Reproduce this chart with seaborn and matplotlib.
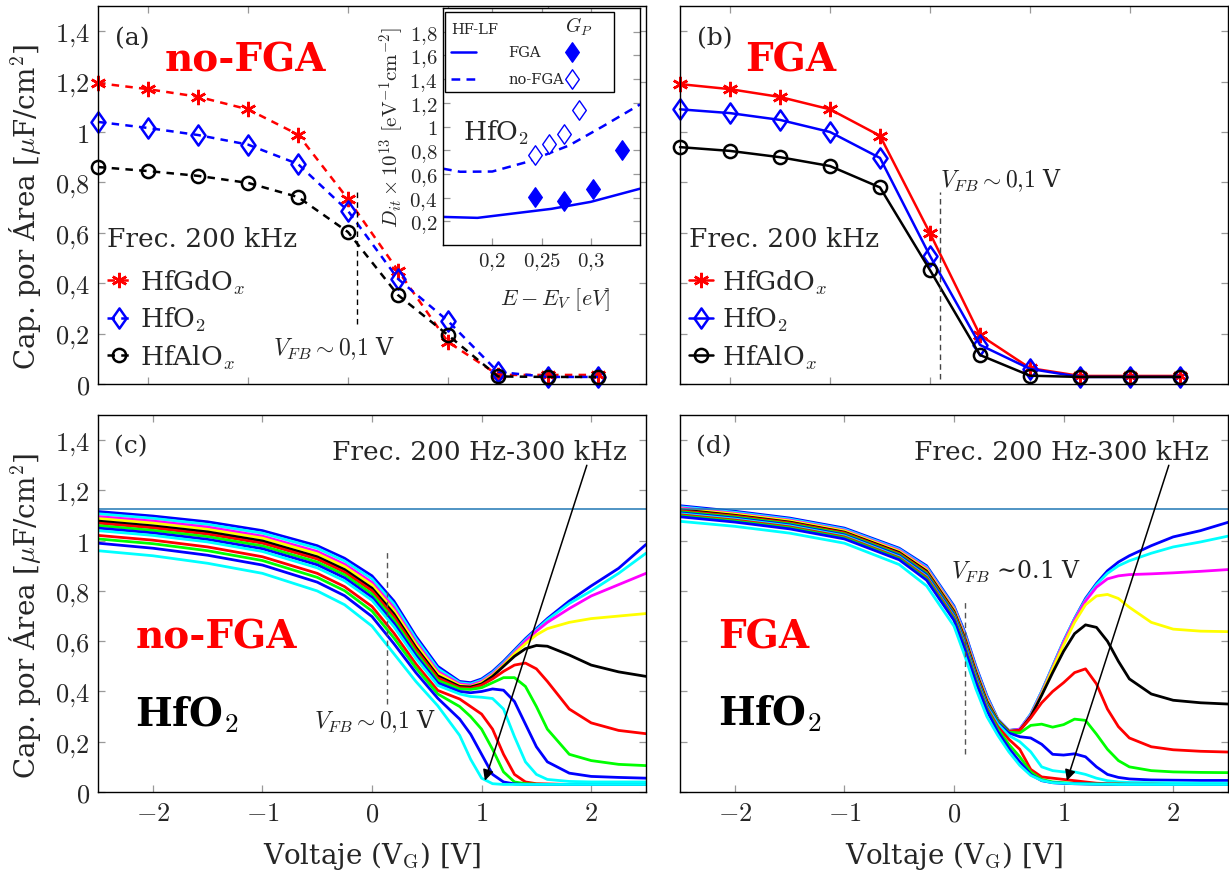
import numpy as np
import pandas as pd
import matplotlib
matplotlib.use("Agg")
import matplotlib.pyplot as plt
import seaborn as sns
from matplotlib.patches import Rectangle
from matplotlib.path import Path

# ---------------- data ----------------
# panels (a) and (b): 200 kHz C-V, three dielectrics
VG_AB = [-2.5, -2.0, -1.5, -1.0, -0.5, 0.0, 0.5, 1.0, 1.5, 2.0, 2.5]
A_HFGDOX = [1.194, 1.170, 1.140, 1.090, 0.990, 0.734, 0.450, 0.167, 0.036, 0.036, 0.036]
A_HFO2 = [1.040, 1.016, 0.988, 0.950, 0.873, 0.687, 0.417, 0.250, 0.048, 0.028, 0.028]
A_HFALOX = [0.861, 0.845, 0.826, 0.798, 0.742, 0.603, 0.353, 0.194, 0.030, 0.028, 0.028]
B_HFGDOX = [1.190, 1.170, 1.139, 1.090, 0.985, 0.598, 0.194, 0.063, 0.032, 0.032, 0.032]
B_HFO2 = [1.090, 1.075, 1.048, 1.000, 0.897, 0.508, 0.155, 0.060, 0.028, 0.028, 0.028]
B_HFALOX = [0.940, 0.925, 0.900, 0.865, 0.780, 0.452, 0.115, 0.033, 0.028, 0.028, 0.028]
SERIES_LABELS = [r"HfGdO$_x$", r"HfO$_2$", r"HfAlO$_x$"]

# inset: Dit vs E - Ev
E_HFLF_FGA = [0.15, 0.185, 0.26, 0.30, 0.35]
DIT_HFLF_FGA = [0.237, 0.229, 0.305, 0.364, 0.475]
E_HFLF_NOFGA = [0.15, 0.1675, 0.20, 0.235, 0.278, 0.312, 0.35]
DIT_HFLF_NOFGA = [0.644, 0.618, 0.620, 0.700, 0.840, 1.000, 1.186]
E_GP_FGA = [0.243, 0.273, 0.302, 0.332]
DIT_GP_FGA = [0.407, 0.373, 0.475, 0.805]
E_GP_NOFGA = [0.243, 0.258, 0.273, 0.288]
DIT_GP_NOFGA = [0.763, 0.856, 0.940, 1.136]

# panels (c) and (d): multi-frequency C-V of HfO2 (200 Hz ... 300 kHz)
CURVE_COLORS = ["#0000FF", "#00FFFF", "#FF00FF", "#FFFF00", "#000000", "#FF0000",
                "#00FF00", "#0000FF", "#00FFFF", "#FF0000", "#00FF00", "#0000FF", "#00FFFF"]
COX = 1.127

VG_C = [-2.5, -2.0, -1.5, -1.0, -0.5, -0.25, 0.0, 0.2, 0.4, 0.6,
        0.8, 0.9, 1.0, 1.1, 1.2, 1.3, 1.4, 1.5, 1.6, 1.8, 2.0, 2.25, 2.5]
C_NOFGA = [
    [1.116, 1.098, 1.075, 1.040, 0.980, 0.930, 0.860, 0.760, 0.620, 0.500,
     0.440, 0.435, 0.450, 0.480, 0.520, 0.565, 0.610, 0.650, 0.690, 0.760, 0.820, 0.890, 0.985],
    [1.107, 1.089, 1.065, 1.030, 0.970, 0.919, 0.848, 0.748, 0.610, 0.491,
     0.435, 0.430, 0.445, 0.475, 0.515, 0.560, 0.605, 0.645, 0.685, 0.750, 0.800, 0.870, 0.950],
    [1.096, 1.078, 1.054, 1.018, 0.957, 0.906, 0.834, 0.733, 0.597, 0.480,
     0.430, 0.425, 0.440, 0.470, 0.510, 0.555, 0.600, 0.640, 0.675, 0.730, 0.780, 0.825, 0.870],
    [1.088, 1.070, 1.045, 1.010, 0.948, 0.897, 0.824, 0.722, 0.588, 0.472,
     0.425, 0.420, 0.435, 0.465, 0.505, 0.550, 0.590, 0.625, 0.650, 0.675, 0.690, 0.700, 0.710],
    [1.078, 1.059, 1.035, 0.999, 0.936, 0.885, 0.811, 0.709, 0.576, 0.462,
     0.420, 0.418, 0.430, 0.460, 0.500, 0.540, 0.570, 0.583, 0.580, 0.545, 0.505, 0.478, 0.460],
    [1.070, 1.051, 1.026, 0.990, 0.927, 0.875, 0.801, 0.698, 0.567, 0.454,
     0.415, 0.413, 0.425, 0.450, 0.480, 0.505, 0.513, 0.490, 0.440, 0.330, 0.275, 0.245, 0.232],
    [1.060, 1.041, 1.016, 0.979, 0.915, 0.864, 0.788, 0.685, 0.555, 0.444,
     0.410, 0.408, 0.415, 0.435, 0.455, 0.455, 0.420, 0.340, 0.250, 0.150, 0.125, 0.110, 0.105],
    [1.050, 1.031, 1.005, 0.968, 0.904, 0.852, 0.775, 0.671, 0.544, 0.434,
     0.400, 0.395, 0.400, 0.410, 0.405, 0.360, 0.270, 0.180, 0.120, 0.075, 0.062, 0.058, 0.055],
    [1.040, 1.021, 0.995, 0.957, 0.892, 0.840, 0.763, 0.658, 0.532, 0.424,
     0.390, 0.380, 0.377, 0.372, 0.330, 0.220, 0.120, 0.070, 0.050, 0.042, 0.040, 0.040, 0.040],
    [1.021, 1.002, 0.975, 0.936, 0.870, 0.817, 0.738, 0.632, 0.510, 0.404,
     0.370, 0.340, 0.310, 0.250, 0.150, 0.070, 0.040, 0.033, 0.032, 0.030, 0.030, 0.030, 0.030],
    [1.007, 0.988, 0.960, 0.921, 0.854, 0.801, 0.720, 0.613, 0.494, 0.390,
     0.340, 0.300, 0.250, 0.170, 0.080, 0.040, 0.033, 0.031, 0.030, 0.030, 0.030, 0.030, 0.030],
    [0.990, 0.970, 0.942, 0.903, 0.835, 0.781, 0.698, 0.590, 0.475, 0.373,
     0.290, 0.230, 0.150, 0.070, 0.040, 0.032, 0.030, 0.030, 0.030, 0.030, 0.030, 0.030, 0.030],
    [0.960, 0.940, 0.910, 0.870, 0.800, 0.745, 0.660, 0.550, 0.440, 0.343,
     0.225, 0.130, 0.055, 0.033, 0.030, 0.030, 0.030, 0.030, 0.030, 0.030, 0.030, 0.030, 0.030],
]

VG_D = [-2.5, -2.0, -1.5, -1.0, -0.5, -0.25, 0.0, 0.1, 0.2, 0.3, 0.4, 0.5,
        0.6, 0.7, 0.8, 0.9, 1.0, 1.1, 1.2, 1.3, 1.4, 1.5, 1.6, 1.8, 2.0, 2.25, 2.5]
C_FGA = [
    [1.139, 1.117, 1.090, 1.050, 0.970, 0.900, 0.740, 0.634, 0.500, 0.383, 0.290, 0.245,
     0.250, 0.310, 0.400, 0.500, 0.600, 0.690, 0.770, 0.830, 0.880, 0.915, 0.940, 0.980, 1.015, 1.040, 1.073],
    [1.135, 1.113, 1.086, 1.046, 0.966, 0.895, 0.735, 0.628, 0.494, 0.378, 0.288, 0.244,
     0.250, 0.310, 0.400, 0.500, 0.600, 0.690, 0.765, 0.825, 0.870, 0.900, 0.920, 0.950, 0.975, 0.995, 1.018],
    [1.131, 1.109, 1.082, 1.042, 0.962, 0.890, 0.730, 0.622, 0.488, 0.372, 0.286, 0.243,
     0.250, 0.305, 0.395, 0.495, 0.595, 0.685, 0.760, 0.815, 0.848, 0.860, 0.865, 0.868, 0.872, 0.878, 0.885],
    [1.127, 1.106, 1.079, 1.039, 0.958, 0.885, 0.725, 0.616, 0.483, 0.367, 0.285, 0.242,
     0.245, 0.300, 0.390, 0.490, 0.585, 0.675, 0.745, 0.780, 0.786, 0.770, 0.735, 0.675, 0.648, 0.640, 0.638],
    [1.123, 1.101, 1.074, 1.034, 0.953, 0.879, 0.719, 0.610, 0.477, 0.361, 0.284, 0.241,
     0.245, 0.300, 0.385, 0.475, 0.560, 0.630, 0.665, 0.655, 0.600, 0.520, 0.450, 0.390, 0.365, 0.355, 0.350],
    [1.119, 1.098, 1.071, 1.031, 0.949, 0.874, 0.714, 0.604, 0.471, 0.356, 0.282, 0.240,
     0.245, 0.295, 0.355, 0.400, 0.435, 0.475, 0.490, 0.430, 0.330, 0.260, 0.215, 0.180, 0.168, 0.162, 0.159],
    [1.115, 1.094, 1.067, 1.027, 0.945, 0.869, 0.709, 0.597, 0.465, 0.351, 0.280, 0.238,
     0.235, 0.265, 0.270, 0.258, 0.268, 0.290, 0.285, 0.230, 0.170, 0.125, 0.100, 0.085, 0.080, 0.078, 0.077],
    [1.111, 1.090, 1.063, 1.023, 0.941, 0.864, 0.704, 0.592, 0.460, 0.346, 0.275, 0.235,
     0.220, 0.215, 0.190, 0.150, 0.147, 0.152, 0.140, 0.100, 0.070, 0.058, 0.052, 0.048, 0.047, 0.046, 0.046],
    [1.107, 1.086, 1.059, 1.019, 0.936, 0.858, 0.698, 0.585, 0.453, 0.340, 0.270, 0.225,
     0.200, 0.160, 0.100, 0.085, 0.080, 0.080, 0.070, 0.055, 0.045, 0.040, 0.038, 0.037, 0.036, 0.035, 0.035],
    [1.103, 1.082, 1.055, 1.015, 0.932, 0.854, 0.694, 0.580, 0.448, 0.335, 0.260, 0.210,
     0.170, 0.090, 0.060, 0.055, 0.050, 0.045, 0.040, 0.035, 0.033, 0.032, 0.031, 0.031, 0.030, 0.030, 0.030],
    [1.099, 1.078, 1.051, 1.011, 0.928, 0.848, 0.688, 0.573, 0.442, 0.329, 0.250, 0.190,
     0.140, 0.080, 0.050, 0.040, 0.037, 0.034, 0.033, 0.032, 0.031, 0.031, 0.030, 0.030, 0.030, 0.030, 0.030],
    [1.095, 1.074, 1.047, 1.007, 0.924, 0.843, 0.683, 0.567, 0.436, 0.324, 0.240, 0.175,
     0.120, 0.070, 0.045, 0.037, 0.034, 0.033, 0.032, 0.031, 0.031, 0.030, 0.030, 0.030, 0.030, 0.030, 0.030],
    [1.077, 1.057, 1.030, 0.990, 0.905, 0.820, 0.660, 0.540, 0.410, 0.300, 0.225, 0.160,
     0.106, 0.066, 0.046, 0.037, 0.035, 0.033, 0.032, 0.031, 0.031, 0.030, 0.030, 0.030, 0.030, 0.030, 0.030],
]

Y_TICKS = [0, 0.2, 0.4, 0.6, 0.8, 1.0, 1.2, 1.4]
X_TICKS = [-2, -1, 0, 1, 2]
INSET_YTICKS = [0.2, 0.4, 0.6, 0.8, 1.0, 1.2, 1.4, 1.6, 1.8]
INSET_XTICKS = [0.2, 0.25, 0.3]

# ---------------- style ----------------
sns.set_theme(style="white")
plt.rcParams["font.family"] = ["DejaVu Serif"]
plt.rcParams["mathtext.fontset"] = "cm"
plt.rcParams["axes.unicode_minus"] = True

W, H = 1229, 879
fig = plt.figure(figsize=(W / 100, H / 100), dpi=100)

# pgfplots-like diamond (width/height ~ 0.7)
DIAMOND = Path([(0, 1), (0.7, 0), (0, -1), (-0.7, 0), (0, 1)],
               [Path.MOVETO, Path.LINETO, Path.LINETO, Path.LINETO, Path.CLOSEPOLY])


def rect(l, t, r, b):
    return [l / W, 1 - b / H, (r - l) / W, (b - t) / H]


def num(v):
    s = ("%g" % v).replace(".", "{,}")
    return "$" + s + "$"


def style(ax, labelsize=19):
    for s in ax.spines.values():
        s.set_visible(True)
        s.set_color("black")
        s.set_linewidth(1.0)
    ax.tick_params(direction="in", length=5, width=0.9, color="#999999",
                   top=True, right=True, bottom=True, left=True,
                   labelsize=labelsize, pad=6)


axA = fig.add_axes(rect(98, 7, 646, 385))
axB = fig.add_axes(rect(680, 7, 1228, 385))
axC = fig.add_axes(rect(98, 416, 646, 793))
axD = fig.add_axes(rect(680, 416, 1228, 793))

YLABEL = r"Cap. por Área [$\mu$F/cm$^2$]"

# ---------------- panels (a), (b) ----------------
mk = [dict(marker=(6, 2, 0), color="#FF0000", ms=11, mew=1.8, mec="#FF0000", mfc="#FF0000"),
      dict(marker=DIAMOND, color="#0000FF", ms=14.5, mew=1.8, mec="#0000FF", mfc="none"),
      dict(marker="o", color="#000000", ms=9.5, mew=1.8, mec="#000000", mfc="none")]

for ax, sets, ls in [(axA, [A_HFGDOX, A_HFO2, A_HFALOX], (0, (3, 2.5))),
                     (axB, [B_HFGDOX, B_HFO2, B_HFALOX], "-")]:
    for vals, lab, m in zip(sets, SERIES_LABELS, mk):
        sns.lineplot(x=VG_AB, y=vals, ax=ax, label=lab, linestyle=ls,
                     linewidth=1.8, clip_on=False, **m)
    ax.set_xlim(-2.5, 2.98)
    ax.set_ylim(0, 1.5)
    ax.set_xticks(X_TICKS)
    ax.set_xticklabels([])
    ax.set_yticks(Y_TICKS)
    ax.set_xlabel("")
    ax.set_ylabel("")
    style(ax)
    leg = ax.legend(loc="upper left", bbox_to_anchor=(0.012, 0.425), frameon=False,
                    title="Frec. 200 kHz", title_fontsize=19, fontsize=19,
                    handlelength=0.9, handletextpad=0.35, labelspacing=0.33,
                    borderpad=0.1, borderaxespad=0.0)
    leg._legend_box.align = "left"
    leg._legend_box.sep = 12

axA.set_yticklabels([num(v) for v in Y_TICKS])
axB.set_yticklabels([])
axA.set_ylabel(YLABEL, fontsize=20)
axA.yaxis.set_label_coords(-0.10, 0.47)

axA.text(-2.33, 1.35, "(a)", fontsize=18, va="baseline")
axB.text(-2.33, 1.35, "(b)", fontsize=18, va="baseline")
axA.text(-1.83, 1.245, "no-FGA", fontsize=28, fontweight="bold", color="#FF0000", va="baseline")
axB.text(-1.85, 1.245, "FGA", fontsize=28, fontweight="bold", color="#FF0000", va="baseline")
axA.plot([0.09, 0.09], [0.24, 0.76], color="black", lw=1.0, linestyle=(0, (4, 3)))
axA.text(-0.75, 0.12, r"$V_{FB}\sim 0{,}1$ V", fontsize=17, va="baseline")
axB.plot([0.1, 0.1], [0.02, 0.76], color="#444444", lw=1.0, linestyle=(0, (4, 3)))
axB.text(0.1, 0.785, r"$V_{FB}\sim 0{,}1$ V", fontsize=17, va="baseline", color="#222222")

# ---------------- inset ----------------
axI = fig.add_axes(rect(443, 9, 640, 246))
axI.set_zorder(5)
axI.set_facecolor("white")
sns.lineplot(x=E_HFLF_FGA, y=DIT_HFLF_FGA, ax=axI, color="#0000FF", linewidth=1.8)
sns.lineplot(x=E_HFLF_NOFGA, y=DIT_HFLF_NOFGA, ax=axI, color="#0000FF", linewidth=1.8,
             linestyle=(0, (3.5, 2.5)))
sns.lineplot(x=E_GP_FGA, y=DIT_GP_FGA, ax=axI, linestyle="none", marker=DIAMOND, ms=14,
             color="#0000FF", mec="#0000FF", mfc="#0000FF", mew=1.0)
sns.lineplot(x=E_GP_NOFGA, y=DIT_GP_NOFGA, ax=axI, linestyle="none", marker=DIAMOND, ms=14,
             color="#0000FF", mec="#0000FF", mfc="white", mew=1.0)
axI.set_xlim(0.15, 0.35)
axI.set_ylim(0, 2.0)
axI.set_xticks(INSET_XTICKS)
axI.set_xticklabels([num(v) for v in INSET_XTICKS])
axI.set_yticks(INSET_YTICKS)
axI.set_yticklabels([num(v) for v in INSET_YTICKS])
style(axI, labelsize=15)
axI.tick_params(pad=4)
axI.set_xlabel(r"$E-E_V\ [eV]$", fontsize=16)
axI.xaxis.set_label_coords(0.57, -0.17)
axI.set_ylabel(r"$D_{it}\times10^{13}\ [\mathrm{eV}^{-1}\mathrm{cm}^{-2}]$", fontsize=15)
axI.yaxis.set_label_coords(-0.19, 0.5)
axI.text(0.10, 0.445, r"HfO$_2$", transform=axI.transAxes, fontsize=19, va="baseline")
# inset legend box
axI.add_patch(Rectangle((0.012, 0.646), 0.856, 0.337, transform=axI.transAxes,
                        facecolor="white", edgecolor="black", lw=1.0, zorder=6))
axI.text(0.04, 0.895, "HF-LF", transform=axI.transAxes, fontsize=10.5, va="baseline", zorder=7)
axI.text(0.62, 0.90, r"$G_P$", transform=axI.transAxes, fontsize=14, va="baseline", zorder=7)
axI.plot([0.04, 0.17], [0.815, 0.815], transform=axI.transAxes, color="#0000FF", lw=1.8, zorder=7)
axI.plot([0.04, 0.17], [0.70, 0.70], transform=axI.transAxes, color="#0000FF", lw=1.8,
         linestyle=(0, (3.5, 2.5)), zorder=7)
axI.text(0.33, 0.815, "FGA", transform=axI.transAxes, fontsize=10.5, va="center", zorder=7)
axI.text(0.33, 0.70, "no-FGA", transform=axI.transAxes, fontsize=10.5, va="center", zorder=7)
axI.plot([0.655], [0.815], transform=axI.transAxes, marker=DIAMOND, ms=14, color="#0000FF",
         mfc="#0000FF", mew=1.0, linestyle="none", zorder=7)
axI.plot([0.655], [0.70], transform=axI.transAxes, marker=DIAMOND, ms=14, color="#0000FF",
         mfc="white", mew=1.0, linestyle="none", zorder=7)

# ---------------- panels (c), (d) ----------------
def long_df(vg, curves):
    rows = []
    for k, vals in enumerate(curves):
        for v, c in zip(vg, vals):
            rows.append((v, c, "f%02d" % k))
    return pd.DataFrame(rows, columns=["V", "C", "curve"])


pal = {"f%02d" % k: col for k, col in enumerate(CURVE_COLORS)}
for ax, vg, curves in [(axC, VG_C, C_NOFGA), (axD, VG_D, C_FGA)]:
    df = long_df(vg, curves)
    sns.lineplot(data=df, x="V", y="C", hue="curve", palette=pal, legend=False,
                 estimator=None, sort=False, linewidth=2.0, ax=ax)
    ax.axhline(COX, color="#1f77b4", lw=1.1)
    ax.set_xlim(-2.5, 2.5)
    ax.set_ylim(0, 1.5)
    ax.set_xticks(X_TICKS)
    ax.set_xticklabels([num(v) for v in X_TICKS])
    ax.set_yticks(Y_TICKS)
    style(ax)
    ax.set_xlabel(r"Voltaje (V$_\mathrm{G}$) [V]", fontsize=20)
    ax.xaxis.set_label_coords(0.5, -0.125)
    ax.set_ylabel("")
    ax.text(2.33, 1.325, "Frec. 200 Hz-300 kHz", fontsize=19, ha="right", va="baseline")
    ax.annotate("", xy=(1.03, 0.045), xytext=(1.96, 1.30),
                arrowprops=dict(arrowstyle="-|>", color="black", lw=1.1, mutation_scale=16,
                                shrinkA=0, shrinkB=0))

axC.set_yticklabels([num(v) for v in Y_TICKS])
axD.set_yticklabels([])
axC.set_ylabel(YLABEL, fontsize=20)
axC.yaxis.set_label_coords(-0.10, 0.47)

axC.text(-2.35, 1.35, "(c)", fontsize=18, va="baseline")
axD.text(-2.35, 1.35, "(d)", fontsize=18, va="baseline")
axC.text(-2.16, 0.575, "no-FGA", fontsize=28, fontweight="bold", color="#FF0000", va="baseline")
axC.text(-2.16, 0.265, r"HfO$_2$", fontsize=28, fontweight="bold", color="black", va="baseline")
axD.text(-2.15, 0.575, "FGA", fontsize=28, fontweight="bold", color="#FF0000", va="baseline")
axD.text(-2.15, 0.27, r"HfO$_2$", fontsize=28, fontweight="bold", color="black", va="baseline")
axC.plot([0.14, 0.14], [0.35, 0.955], color="#555555", lw=1.0, linestyle=(0, (4, 3)))
axC.text(-0.53, 0.258, r"$V_{FB}\sim 0{,}1$ V", fontsize=17, va="baseline", color="#222222")
axD.plot([0.1, 0.1], [0.15, 0.76], color="#555555", lw=1.0, linestyle=(0, (4, 3)))
axD.text(-0.03, 0.852, r"$V_{FB}$ ∼0.1 V", fontsize=17, va="baseline", color="#222222")

fig.savefig("out.png", dpi=100)
